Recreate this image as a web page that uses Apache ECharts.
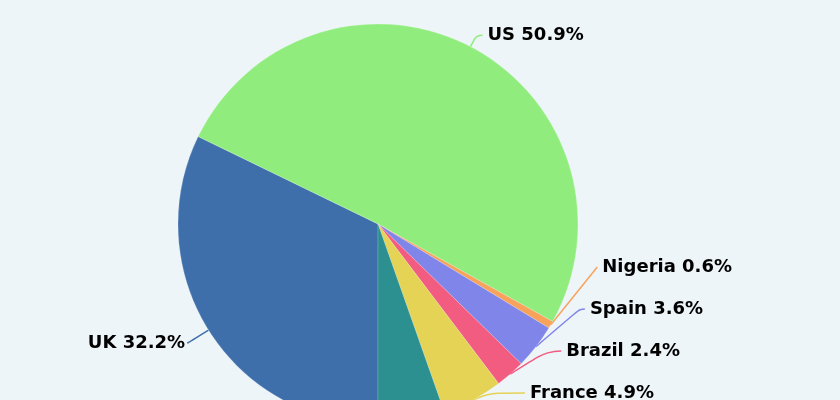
<!DOCTYPE html>
<html><head><meta charset="utf-8">
<style>html,body{margin:0;padding:0;background:#eef5f9;}#c{width:840px;height:400px;}</style>
<script src="https://cdn.jsdelivr.net/npm/echarts@6/dist/echarts.min.js"></script>
</head><body><div id="c"></div>
<script>
const categories = ['UK', 'US', 'Nigeria', 'Spain', 'Brazil', 'France', 'Other'];
const shares = [32.2, 50.9, 0.6, 3.6, 2.4, 4.9, 5.4];
const colors = ['#3e6faa', '#90ed7d', '#f7a35c', '#8085e9', '#f15c80', '#e4d354', '#2b908f'];

const chart = echarts.init(document.getElementById('c'), null, {renderer: 'canvas'});
const tails = {Nigeria: 0, Spain: 5, Brazil: 14, France: 38};
const data = categories.map((n, i) => {
  const d = {name: n, value: shares[i], itemStyle: {color: colors[i]}};
  if (n === 'UK') { d.labelLine = {length: 24, length2: 1}; d.label = {distanceToLabelLine: 2}; }
  else if (n === 'Other') { d.label = {show: false}; d.labelLine = {show: false}; }
  else if (n in tails) { d.labelLine = {length: 30, length2: tails[n]}; }
  return d;
});
chart.setOption({
  backgroundColor: '#eef5f9',
  animation: false,
  series: [{
    type: 'pie',
    left: 0, top: 0, width: 840, height: 414,
    center: [378, 224],
    radius: 200,
    startAngle: 270,
    clockwise: true,
    data: data,
    itemStyle: {borderColor: 'rgba(255,255,255,0.35)', borderWidth: 0.5},
    label: {
      formatter: p => p.name + ' ' + p.value + '%',
      fontFamily: 'DejaVu Sans',
      fontWeight: 'bold',
      fontSize: 18,
      color: '#000',
      lineHeight: 40
    },
    labelLine: {length: 13, length2: 6, smooth: 0.5, lineStyle: {width: 1.5}}
  }]
});
</script></body></html>
